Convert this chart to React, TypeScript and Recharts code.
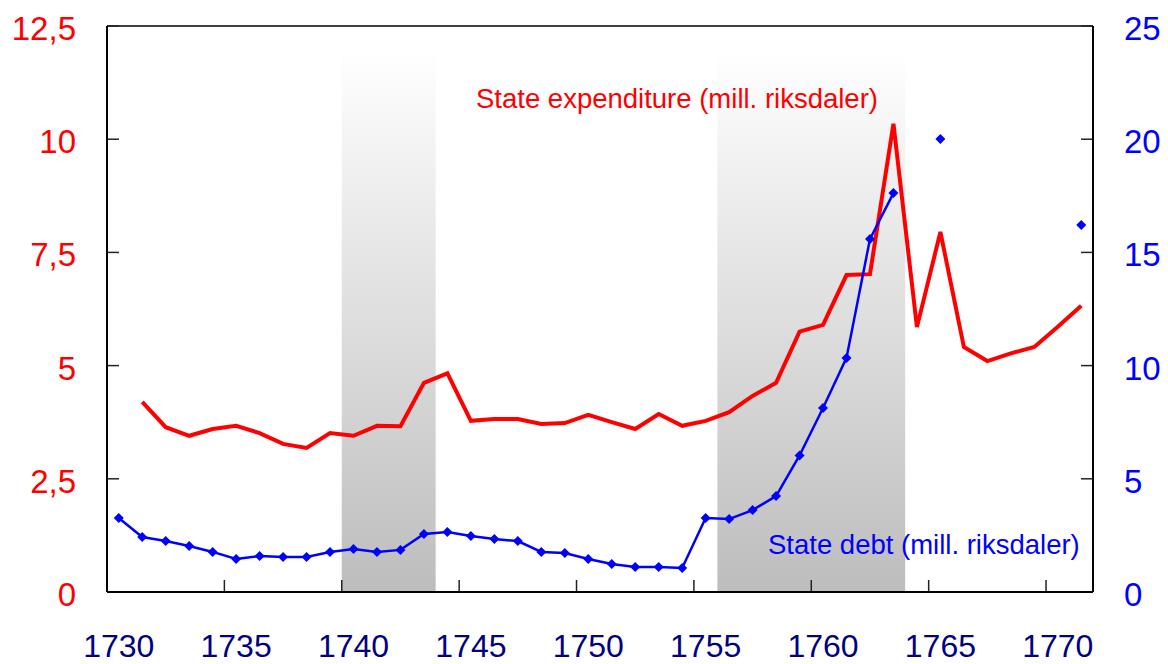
import { LineChart, Line, XAxis, YAxis, ReferenceArea, ReferenceLine } from "recharts";

const FONT = "'Liberation Sans', Arial, Helvetica, sans-serif";

const years = [
  1730, 1731, 1732, 1733, 1734, 1735, 1736, 1737, 1738, 1739,
  1740, 1741, 1742, 1743, 1744, 1745, 1746, 1747, 1748, 1749,
  1750, 1751, 1752, 1753, 1754, 1755, 1756, 1757, 1758, 1759,
  1760, 1761, 1762, 1763, 1764, 1765, 1766, 1767, 1768, 1769,
  1770, 1771,
];

// state expenditure, mill. riksdaler (left axis)
const expenditure = [
  null, 4.2, 3.64, 3.45, 3.6, 3.67, 3.51, 3.27, 3.18, 3.51,
  3.45, 3.67, 3.66, 4.62, 4.83, 3.78, 3.82, 3.82, 3.71, 3.73,
  3.91, 3.75, 3.6, 3.93, 3.67, 3.78, 3.97, 4.33, 4.62, 5.75,
  5.9, 7.0, 7.02, 10.34, 5.85, 7.95, 5.41, 5.1, 5.27, 5.41,
  5.86, 6.32,
];

// state debt, mill. riksdaler (right axis)
const debt = [
  3.27, 2.43, 2.25, 2.03, 1.77, 1.46, 1.59, 1.55, 1.55, 1.77,
  1.9, 1.77, 1.86, 2.56, 2.65, 2.47, 2.34, 2.25, 1.77, 1.72,
  1.46, 1.24, 1.1, 1.1, 1.06, 3.27, 3.22, 3.62, 4.24, 6.03,
  8.13, 10.34, 15.59, 17.62, null, 20.01, null, null, null, null,
  null, 16.21,
];

// labelled years, and the tick marks between categories
const yearLabels = [1730, 1735, 1740, 1745, 1750, 1755, 1760, 1765, 1770];
const yearMarks = [1734.5, 1739.5, 1744.5, 1749.5, 1754.5, 1759.5, 1764.5, 1769.5];
const expenditureTicks = [0, 2.5, 5, 7.5, 10, 12.5];
const debtTicks = [0, 5, 10, 15, 20, 25];

// shaded war years
const wars = [
  { from: 1740, to: 1743 },
  { from: 1756, to: 1763 },
];

const rows = years.map((year, i) => ({
  year,
  expenditure: expenditure[i],
  debt: debt[i],
}));

const comma = (v: number) => String(v).replace(".", ",");

const TICK = 12;

// short inward tick marks drawn at reference-line positions
const leftMark = (p: any) => {
  const xl = Math.min(p.x1, p.x2);
  return <line x1={xl} x2={xl + TICK} y1={p.y1} y2={p.y1} stroke="#222" strokeWidth={1.5} />;
};
const rightMark = (p: any) => {
  const xr = Math.max(p.x1, p.x2);
  return <line x1={xr - TICK} x2={xr} y1={p.y1} y2={p.y1} stroke="#222" strokeWidth={1.5} />;
};
const bottomMark = (p: any) => {
  const yb = Math.max(p.y1, p.y2);
  return <line x1={p.x1} x2={p.x1} y1={yb} y2={yb - TICK} stroke="#222" strokeWidth={1.5} />;
};

function YearTick(props: any) {
  const { x, y, payload } = props;
  return (
    <text x={x} y={y + 65} textAnchor="middle" fill="#000080" fontSize={32} fontFamily={FONT}>
      {payload.value}
    </text>
  );
}

function LeftTick(props: any) {
  const { x, y, payload } = props;
  return (
    <text x={x} y={y + 14} textAnchor="end" fill="#ff0000" fontSize={33} fontFamily={FONT}>
      {comma(payload.value)}
    </text>
  );
}

function RightTick(props: any) {
  const { x, y, payload } = props;
  return (
    <text x={x} y={y + 14} textAnchor="start" fill="#0000ff" fontSize={33} fontFamily={FONT}>
      {payload.value}
    </text>
  );
}

function Diamond(props: any) {
  const { cx, cy, index } = props;
  if (cx == null || cy == null) return <g key={index} />;
  const r = 5;
  return (
    <path
      key={index}
      d={`M${cx},${cy - r}L${cx + r},${cy}L${cx},${cy + r}L${cx - r},${cy}Z`}
      fill="#0000ff"
    />
  );
}

export default function App() {
  return (
    <div
      style={{
        position: "absolute",
        left: 0,
        top: 0,
        width: 1168,
        height: 664,
        background: "#fff",
      }}
    >
      <LineChart
        width={1168}
        height={664}
        data={rows}
        margin={{ top: 26, right: 0, bottom: 0, left: 0 }}
      >
        <defs>
          <linearGradient id="warFill" x1="0" y1="0" x2="0" y2="1">
            <stop offset="0" stopColor="#ffffff" />
            <stop offset="1" stopColor="#bdbdbd" />
          </linearGradient>
        </defs>
        <XAxis
          xAxisId="yr"
          dataKey="year"
          type="number"
          domain={[1729.5, 1771.5]}
          ticks={yearLabels}
          interval={0}
          height={72}
          tickLine={false}
          tickSize={0}
          tickMargin={0}
          axisLine={{ stroke: "#000", strokeWidth: 2 }}
          tick={<YearTick />}
        />
        <YAxis
          yAxisId="left"
          orientation="left"
          width={107}
          domain={[0, 12.5]}
          ticks={expenditureTicks}
          interval={0}
          tickLine={false}
          tickSize={0}
          tickMargin={31}
          axisLine={{ stroke: "#000", strokeWidth: 2 }}
          tick={<LeftTick />}
        />
        <YAxis
          yAxisId="right"
          orientation="right"
          width={75}
          domain={[0, 25]}
          ticks={debtTicks}
          interval={0}
          tickLine={false}
          tickSize={0}
          tickMargin={31}
          axisLine={{ stroke: "#000", strokeWidth: 2 }}
          tick={<RightTick />}
        />
        {wars.map((w) => (
          <ReferenceArea
            key={w.from}
            xAxisId="yr"
            yAxisId="left"
            x1={w.from - 0.5}
            x2={w.to + 0.5}
            y1={0}
            y2={12}
            fill="url(#warFill)"
            fillOpacity={1}
            stroke="none"
          />
        ))}
        <ReferenceLine xAxisId="yr" yAxisId="left" y={12.5} stroke="#000" strokeWidth={1.5} />
        {expenditureTicks.map((v) => (
          <ReferenceLine key={`l${v}`} xAxisId="yr" yAxisId="left" y={v} shape={leftMark} />
        ))}
        {debtTicks.map((v) => (
          <ReferenceLine key={`r${v}`} xAxisId="yr" yAxisId="right" y={v} shape={rightMark} />
        ))}
        {yearMarks.map((v) => (
          <ReferenceLine key={`x${v}`} xAxisId="yr" yAxisId="left" x={v} shape={bottomMark} />
        ))}
        <Line
          xAxisId="yr"
          yAxisId="left"
          dataKey="expenditure"
          stroke="#ff0000"
          strokeWidth={4}
          dot={false}
          activeDot={false}
          isAnimationActive={false}
        />
        <Line
          xAxisId="yr"
          yAxisId="right"
          dataKey="debt"
          stroke="#0000ff"
          strokeWidth={2.5}
          dot={Diamond}
          activeDot={false}
          isAnimationActive={false}
        />
      </LineChart>
      <svg
        width={1168}
        height={664}
        style={{ position: "absolute", left: 0, top: 0, pointerEvents: "none" }}
      >
        <text x={476} y={108} fill="#ff0000" fontSize={27.5} fontFamily={FONT}>
          State expenditure (mill. riksdaler)
        </text>
        <text x={768} y={554} fill="#0000ff" fontSize={27.5} fontFamily={FONT}>
          State debt (mill. riksdaler)
        </text>
      </svg>
    </div>
  );
}
